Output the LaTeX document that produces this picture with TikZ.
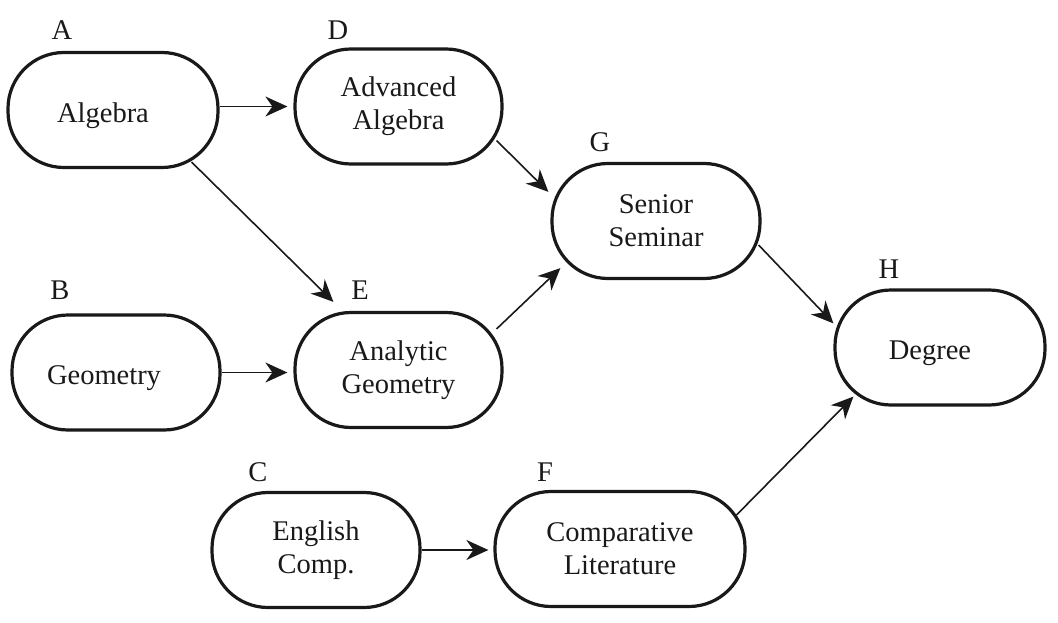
\documentclass[tikz,border=0pt]{standalone}
\usepackage{fontspec}
\setmainfont{Liberation Serif}
\usetikzlibrary{arrows.meta,calc}
\newcommand{\oneline}[2]{\raisebox{-6pt}[\height][\depth]{#1}\hspace*{#2}}
\begin{document}
\begin{tikzpicture}[x=1pt,y=-1pt,
  course/.style={draw=black!90, line width=3.2pt, rounded corners=56pt, minimum height=115pt,
     align=center, inner sep=0pt, font=\fontsize{28.5}{33}\selectfont, text=black!90},
  tag/.style={inner sep=0pt, font=\fontsize{28.5}{33}\selectfont, text=black!90},
  link/.style={draw=black!90, line width=1.6pt, -{Stealth[length=22pt,width=20pt,inset=7pt]}}]
\useasboundingbox (0,0) rectangle (1058,623);
\node[course, minimum width=210pt] (A) at (113,110) {\oneline{Algebra}{20pt}};
\node[course, minimum width=207pt] (D) at (398.5,106.5) {Advanced\\Algebra};
\node[course, minimum width=208pt] (G) at (656,221) {Senior\\Seminar};
\node[course, minimum width=210pt] (H) at (940,347.5) {\oneline{Degree}{20pt}};
\node[course, minimum width=208pt] (B) at (116,372.5) {\oneline{Geometry}{24pt}};
\node[course, minimum width=207pt] (E) at (398.5,370) {Analytic\\Geometry};
\node[course, minimum width=208pt] (C) at (316,550) {English\\Comp.};
\node[course, minimum width=250pt] (F) at (620,549) {Comparative\\Literature};
\node[tag] (lA) at (62,30) {A};
\node[tag] (lD) at (338,30) {D};
\node[tag] (lG) at (600,142) {G};
\node[tag] (lH) at (889,269) {H};
\node[tag] (lB) at (60,290) {B};
\node[tag] (lE) at (360,290) {E};
\node[tag] (lC) at (258,472) {C};
\node[tag] (lF) at (545,472) {F};
\draw[link, shorten >=6pt] (A.east |- D.west) -- (D.west);
\draw[link, shorten >=6pt] (B.east) -- (E.west |- B.east);
\draw[link, shorten >=5pt] (C.east) -- (F.west |- C.east);
\draw[link] ($(A.south east)+(-28,-7)$) -- ($(E.north west)+(40,-9)$);
\draw[link] ($(D.south east)+(-7,-25)$) -- ($(G.north west)+(-2,30)$);
\draw[link] ($(E.north east)+(-7,18)$) -- ($(G.south west)+(10,-12)$);
\draw[link] ($(G.east)+(-3,24)$) -- ($(H.north west)+(0,35)$);
\draw[link] ($(F.north east)+(-10,25)$) -- ($(H.south west)+(20,-10)$);
\end{tikzpicture}
\end{document}
